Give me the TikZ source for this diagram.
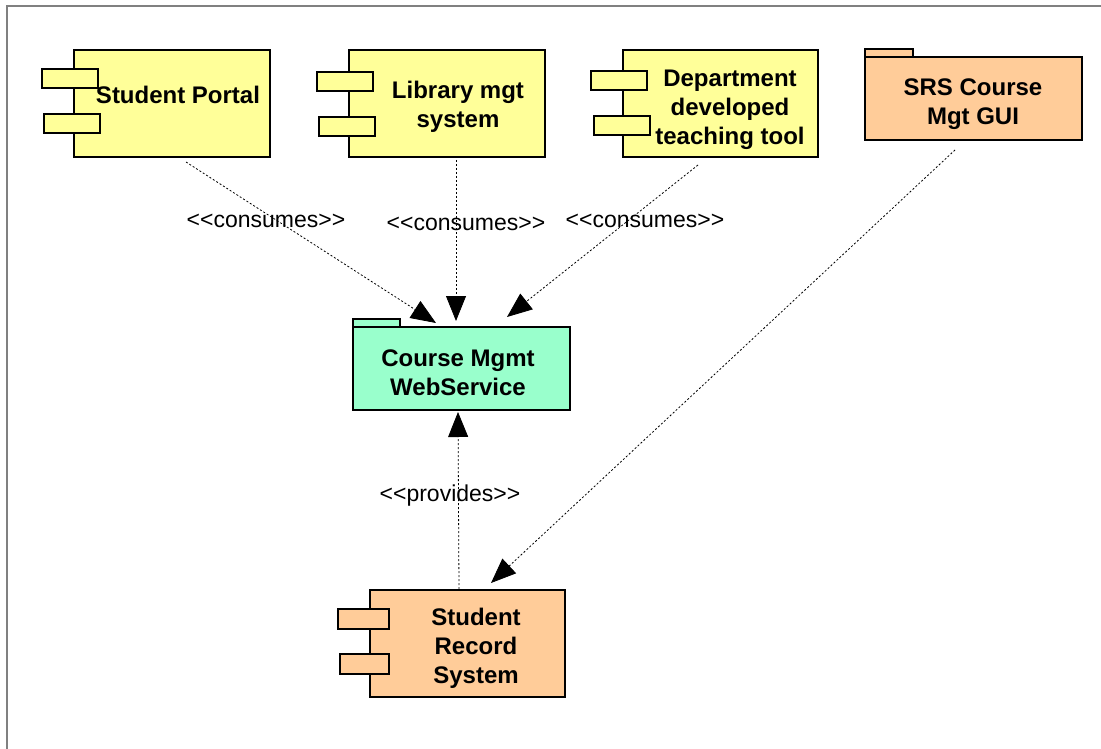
\documentclass[tikz,border=0pt]{standalone}
\usepackage{fontspec}
\setmainfont{Liberation Sans}
\usetikzlibrary{arrows.meta}

\definecolor{jaune}{HTML}{FFFF99}
\definecolor{vert}{HTML}{99FFCC}
\definecolor{orange}{HTML}{FFCC99}

\begin{document}
\begin{tikzpicture}[x=1pt, y=-1pt, >={Triangle[length=25pt, width=20pt]},
  boite/.style={draw=black, line width=1.2pt, inner sep=0pt},
  texte/.style={font=\bfseries\fontsize{24}{29}\selectfont, align=center, inner sep=0pt},
  stereo/.style={font=\fontsize{23}{27}\selectfont, inner sep=0pt},
  dep/.style={->, line width=0.8pt, dash pattern=on 2pt off 2pt}]

\useasboundingbox (0,0) rectangle (1101,749);

% Le cadre
\draw[gray, line width=2pt] (1101,6) -- (7,6) -- (7,749);

% Les composants (boites principales)
\node[boite, fill=jaune, minimum width=196pt, minimum height=107pt] (portail) at (172,103.5) {};
\node[boite, fill=jaune, minimum width=196pt, minimum height=107pt] (biblio) at (447,103.5) {};
\node[boite, fill=jaune, minimum width=195pt, minimum height=107pt] (outil) at (720.5,103.5) {};
\node[boite, fill=orange, minimum width=195pt, minimum height=107pt] (dossier) at (467.5,643.5) {};

% Les paquetages (avec onglet)
\draw[boite, fill=orange] (865,49) rectangle (913,57);
\node[boite, fill=orange, minimum width=217pt, minimum height=83pt] (gui) at (973.5,98.5) {};
\draw[boite, fill=vert] (353,319) rectangle (400,327);
\node[boite, fill=vert, minimum width=217pt, minimum height=83pt] (service) at (461.5,368.5) {};

% Les petits rectangles des composants
\foreach \x/\y in {42/69, 44/114, 317/72, 319/117, 591/71, 594/116}
\draw[boite, fill=jaune] (\x,\y) rectangle ++(56,19);
\foreach \x/\y in {338/609, 340/654}
\draw[boite, fill=orange] (\x,\y) rectangle (389,\y+20);

% Les textes
\node[texte] (portail-t) at (178,95) {Student Portal};
\node[texte] (biblio-t) at (458,107) {Library mgt\\system};
\node[texte] (outil-t) at (730,110) {Department\\developed\\teaching tool};
\node[texte] (gui-t) at (973,104) {SRS Course\\Mgt GUI};
\node[texte] (service-t) at (458,373) {Course Mgmt\\WebService};
\node[texte] (dossier-t) at (476,648) {Student\\Record\\System};

% Les extremites des dependances
\coordinate (p1) at (186,162);
\coordinate (p2) at (456,160);
\coordinate (p3) at (698,165);
\coordinate (p4) at (955,150);
\coordinate (p5) at (459,589);
\coordinate (s1) at (436,323);
\coordinate (s2) at (456,321);
\coordinate (s3) at (507,317);
\coordinate (s4) at (458,412);
\coordinate (r1) at (491,583);

% Les dependances
\draw[dep] (p1) -- (s1);
\draw[dep] (p2) -- (s2);
\draw[dep] (p3) -- (s3);
\draw[dep] (p4) -- (r1);
\draw[dep] (p5) -- (s4);

% Les stereotypes
\node[stereo] (c1) at (266,221) {{<}{<}consumes{>}{>}};
\node[stereo] (c2) at (466,224) {{<}{<}consumes{>}{>}};
\node[stereo] (c3) at (645,221) {{<}{<}consumes{>}{>}};
\node[stereo] (pr) at (450,496) {{<}{<}provides{>}{>}};

\end{tikzpicture}
\end{document}
